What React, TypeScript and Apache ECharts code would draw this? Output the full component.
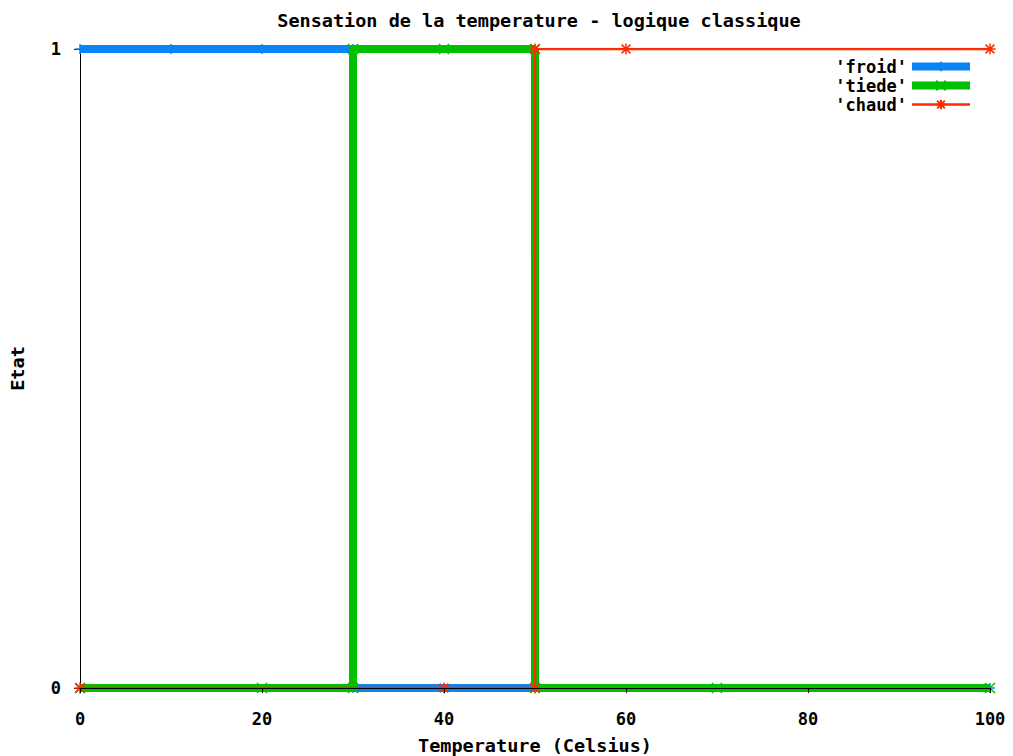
import React, { useEffect, useRef } from "react";
import * as echarts from "echarts";

// Chart texts
const TITLE = "Sensation de la temperature - logique classique";
const X_NAME = "Temperature (Celsius)";
const Y_NAME = "Etat";

// Axis ranges and ticks
const X_MIN = 0;
const X_MAX = 100;
const X_STEP = 20;
const Y_MIN = 0;
const Y_MAX = 1;
const Y_STEP = 1;

// Series: temperature (x) and crisp membership (y)
const froidX = [0, 10, 20, 30, 30, 100];
const froidY = [1, 1, 1, 1, 0, 0];
const tiedeX = [0, 20, 30, 30, 40, 50, 50, 70, 100];
const tiedeY = [0, 0, 0, 1, 1, 1, 0, 0, 0];
const chaudX = [0, 40, 50, 50, 60, 100];
const chaudY = [0, 0, 0, 1, 1, 1];

const FONT = "'DejaVu Sans Mono', 'Liberation Mono', monospace";

const PLUS = "path://M5,0L5,10M0,5L10,5";
const CROSS = "path://M0,0L10,10M10,0L0,10";
const STAR = "path://M5,0L5,10M0,5L10,5M1,1L9,9M9,1L1,9";

const BLUE = "#0a84f5";
const GREEN = "#00c000";
const RED = "#ff2a00";

const pairs = (xs: number[], ys: number[]) => xs.map((x, i) => [x, ys[i]]);

export default function App() {
  const ref = useRef<HTMLDivElement>(null);

  useEffect(() => {
    if (!ref.current) return;
    const chart = echarts.init(ref.current, undefined, { renderer: "svg" });
    const txt = { fontFamily: FONT, fontWeight: "bold" as const, fontSize: 17, color: "#000" };
    const big = { ...txt, fontSize: 18.5 };

    const lineSeries = (
      name: string,
      data: number[][],
      color: string,
      width: number,
      symbol: string,
      symbolSize: number,
      z: number
    ) => ({
      type: "line",
      name,
      data,
      z,
      showSymbol: true,
      symbol,
      symbolSize,
      symbolKeepAspect: true,
      lineStyle: { color, width },
      itemStyle: { color, borderColor: color, borderWidth: 1.5 },
      emphasis: { disabled: true },
    });

    chart.setOption({
      animation: false,
      backgroundColor: "#fff",
      title: {
        text: TITLE,
        left: 534,
        top: 6,
        textAlign: "center",
        textStyle: big,
      },
      legend: {
        orient: "vertical",
        right: 34,
        top: 53,
        align: "right",
        itemWidth: 58,
        itemHeight: 12,
        itemGap: 2,
        textStyle: { ...txt, lineHeight: 16 },
        selectedMode: false,
        data: [
          { name: "'froid'", lineStyle: { width: 8 } },
          { name: "'tiede'", lineStyle: { width: 8 } },
          { name: "'chaud'", lineStyle: { width: 2.5 } },
        ],
      },
      grid: { left: 80, right: 23, top: 49, bottom: 68, outerBoundsMode: "none" },
      xAxis: {
        type: "value",
        min: X_MIN,
        max: X_MAX,
        interval: X_STEP,
        z: 5,
        name: X_NAME,
        nameLocation: "middle",
        nameGap: 48,
        nameTextStyle: big,
        axisLine: { lineStyle: { color: "#000", width: 1 } },
        axisTick: { show: true, length: 5, lineStyle: { color: "#000" } },
        axisLabel: { ...txt, margin: 22 },
        splitLine: { show: false },
      },
      yAxis: {
        type: "value",
        min: Y_MIN,
        max: Y_MAX,
        interval: Y_STEP,
        name: Y_NAME,
        nameLocation: "middle",
        nameGap: 53,
        nameTextStyle: big,
        axisLine: { show: true, lineStyle: { color: "#000", width: 1 } },
        axisTick: { show: true, length: 6, lineStyle: { color: "#000" } },
        axisLabel: { ...txt, margin: 19 },
        splitLine: { show: false },
      },
      series: [
        lineSeries("'froid'", pairs(froidX, froidY), BLUE, 8, PLUS, 10, 2),
        lineSeries("'tiede'", pairs(tiedeX, tiedeY), GREEN, 8, CROSS, 10, 3),
        lineSeries("'chaud'", pairs(chaudX, chaudY), RED, 2.5, STAR, 11, 4),
      ],
    });

    return () => chart.dispose();
  }, []);

  return (
    <div
      ref={ref}
      style={{ position: "absolute", left: 0, top: 0, width: 1013, height: 756 }}
    />
  );
}
